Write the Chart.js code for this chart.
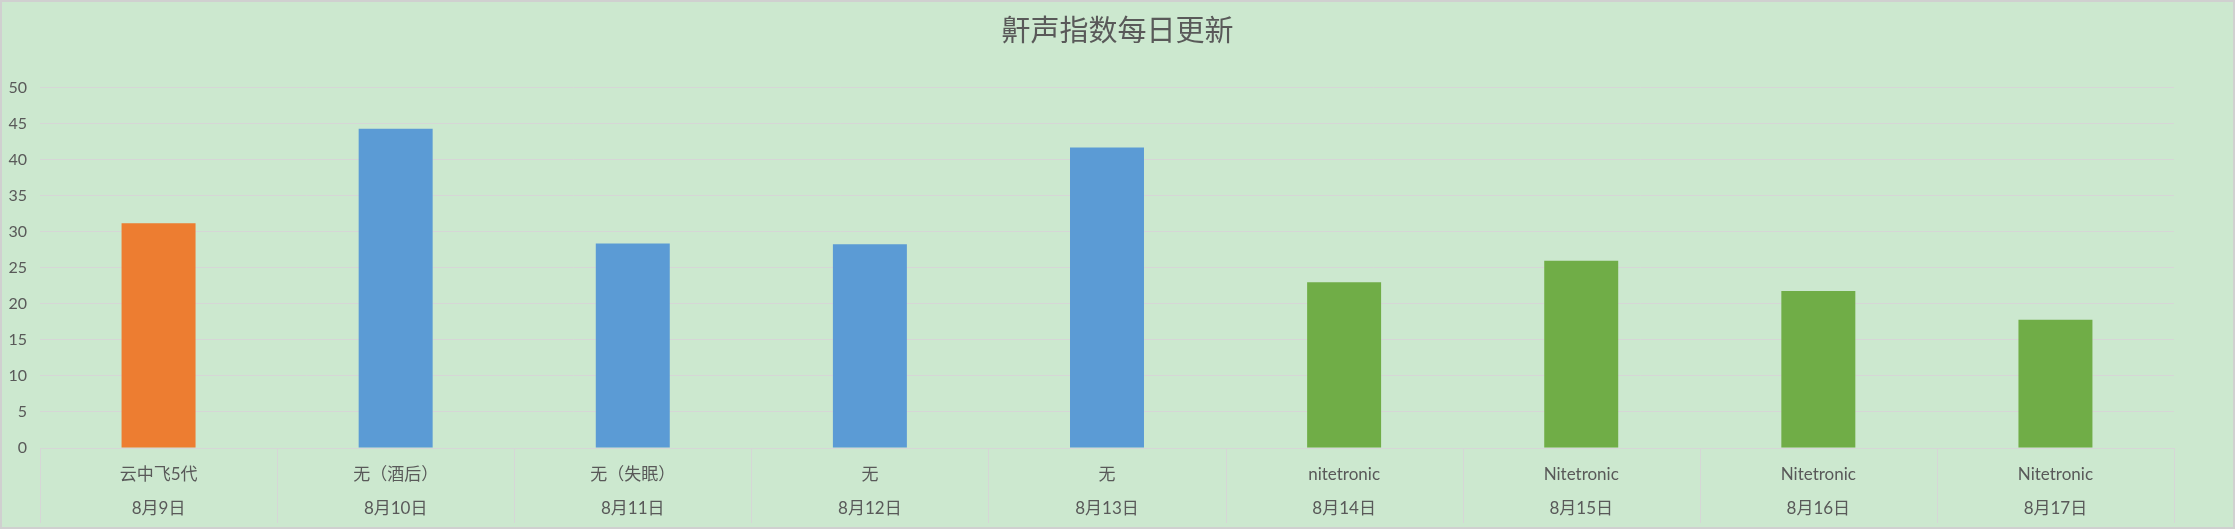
<!DOCTYPE html>
<html>
<head>
<meta charset="utf-8">
<script src="https://cdn.jsdelivr.net/npm/chart.js@4/dist/chart.umd.min.js"></script>
<style>
  html, body { margin: 0; padding: 0; background: #CCE8CF; }
  #wrap { width: 2235px; height: 529px; position: relative; background: #CCE8CF; }
  canvas { display: block; }
</style>
</head>
<body>
<div id="wrap"><canvas id="c" width="2235" height="529"></canvas></div>
<script>
const products = ['云中飞5代', '无（酒后）', '无（失眠）', '无', '无', 'nitetronic', 'Nitetronic', 'Nitetronic', 'Nitetronic'];
const dates = ['8月9日', '8月10日', '8月11日', '8月12日', '8月13日', '8月14日', '8月15日', '8月16日', '8月17日'];
const snoreIndex = [31.2, 44.3, 28.4, 28.3, 41.7, 23.0, 26.0, 21.8, 17.8];
const yTicks = [0, 5, 10, 15, 20, 25, 30, 35, 40, 45, 50];
const titleText = '鼾声指数每日更新';

const labels = products.map((p, i) => [p, dates[i]]);
function colorFor(p) {
  if (p.indexOf('云中飞') === 0) return '#ED7D31';
  if (p.toLowerCase() === 'nitetronic') return '#70AD47';
  return '#5B9BD5';
}
const barColors = products.map(colorFor);
const lineColor = '#D6D6D6';

// category separators below the axis (multi-level axis look) + outer border
const decoPlugin = {
  id: 'deco',
  afterDraw(chart) {
    const ctx = chart.ctx;
    const xs = chart.scales.x;
    const n = xs.ticks.length;
    ctx.save();
    ctx.strokeStyle = lineColor;
    ctx.lineWidth = 1;
    const bounds = [];
    for (let i = 0; i <= n; i++) {
      let x;
      if (i === 0) x = xs.left;
      else if (i === n) x = xs.right;
      else x = (xs.getPixelForTick(i - 1) + xs.getPixelForTick(i)) / 2;
      bounds.push(x);
    }
    ctx.beginPath();
    bounds.forEach(x => {
      const px = Math.round(x) + 0.5;
      ctx.moveTo(px, xs.top);
      ctx.lineTo(px, xs.bottom);
    });
    ctx.stroke();
    ctx.strokeStyle = '#D0D0D0';
    ctx.lineWidth = 2;
    ctx.strokeRect(1, 1, chart.width - 2, chart.height - 2);
    ctx.restore();
  }
};

const tickFont = { family: 'Lato, "Noto Sans CJK SC", sans-serif', size: 17, lineHeight: 2 };

new Chart(document.getElementById('c'), {
  type: 'bar',
  data: {
    labels: labels,
    datasets: [{
      data: snoreIndex,
      backgroundColor: barColors,
      borderWidth: 0,
      categoryPercentage: 1,
      barPercentage: 0.312
    }]
  },
  options: {
    responsive: false,
    animation: false,
    devicePixelRatio: 1,
    layout: { padding: { left: 0, right: 0, top: 0, bottom: 6 } },
    plugins: {
      legend: { display: false },
      tooltip: { enabled: false },
      title: {
        display: true,
        text: titleText,
        color: '#595959',
        font: { family: '"Noto Sans CJK SC", sans-serif', size: 29, weight: 'normal', lineHeight: 1.2 },
        padding: { top: 13, bottom: 40 }
      }
    },
    scales: {
      x: {
        offset: true,
        border: { display: true, color: lineColor, width: 1 },
        grid: { display: false },
        ticks: {
          color: '#595959',
          font: tickFont,
          padding: 2,
          maxRotation: 0,
          minRotation: 0,
          autoSkip: false
        },
        afterFit(scale) { scale.height = 75; }
      },
      y: {
        min: yTicks[0],
        max: yTicks[yTicks.length - 1],
        border: { display: false },
        grid: { color: lineColor, drawTicks: false, lineWidth: 1 },
        afterBuildTicks(scale) { scale.ticks = yTicks.map(v => ({ value: v })); },
        afterFit(scale) { scale.width = 40; },
        ticks: {
          color: '#595959',
          font: { family: 'Lato, sans-serif', size: 16 },
          padding: 13
        }
      },
      yRight: {
        position: 'right',
        min: yTicks[0],
        max: yTicks[yTicks.length - 1],
        border: { display: false },
        grid: { display: false, drawOnChartArea: false },
        ticks: { display: false },
        afterFit(scale) { scale.width = 61; }
      }
    }
  },
  plugins: [decoPlugin]
});
</script>
</body>
</html>
